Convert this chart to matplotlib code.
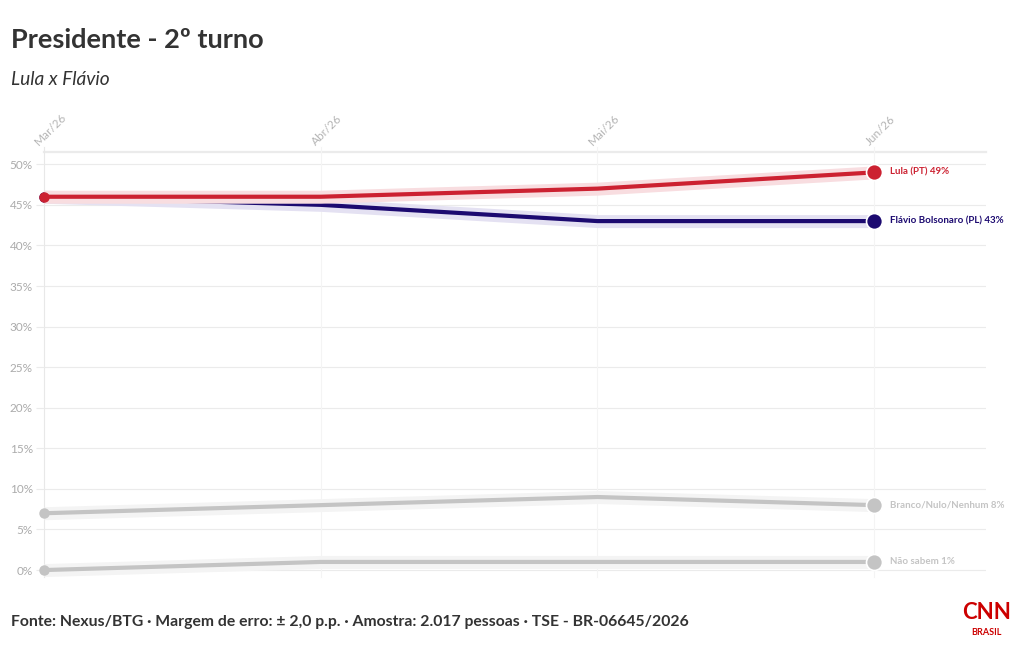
import numpy as np
import matplotlib
matplotlib.use("Agg")
import matplotlib.pyplot as plt

plt.rcParams['font.family'] = ['Lato', 'DejaVu Sans']

months = ["Mar/26", "Abr/26", "Mai/26", "Jun/26"]
lula = [46, 46, 47, 49]
flavio = [46, 45, 43, 43]
branco = [7, 8, 9, 8]
nao_sabem = [0, 1, 1, 1]
y_ticks = [0, 5, 10, 15, 20, 25, 30, 35, 40, 45, 50]

series = [
    ("Não sabem", nao_sabem, "#c4c4c4", "#f4f4f4"),
    ("Branco/Nulo/Nenhum", branco, "#c4c4c4", "#f4f4f4"),
    ("Flávio Bolsonaro (PL)", flavio, "#1c0a70", "#e4e1f2"),
    ("Lula (PT)", lula, "#cc2131", "#f8dde0"),
]
BAND = 0.8

fig = plt.figure(figsize=(10.2, 6.5), dpi=100, facecolor="white")
ax = fig.add_axes([0.0431, 0.113, 0.9236, 0.653])
x = np.arange(len(months))
ax.set_xlim(0, 3.404)
ax.set_ylim(-0.8, 51.5)

grid_c = "#ebebeb"
for yt in y_ticks:
    ax.axhline(yt, color=grid_c, lw=0.8, zorder=0)
ax.axhline(51.5, color=grid_c, lw=1.6, zorder=0, clip_on=False)
for xi in x:
    ax.axvline(xi, color="#e8e8e8" if xi == 0 else "#f4f4f4", lw=0.8, zorder=0,
               ymax=1.013, clip_on=False)

for z, (name, vals, col, band) in enumerate(series):
    v = np.array(vals, dtype=float)
    ax.fill_between(x, v - BAND, v + BAND, color=band, lw=0, zorder=1 + z * 3)
    ax.plot(x, v, color=col, lw=3.0, solid_capstyle="round", zorder=2 + z * 3,
            clip_on=False)
    ax.plot(x[0], v[0], "o", ms=6.5, color=col, zorder=3 + z * 3, clip_on=False)
    ax.plot(x[-1], v[-1], "o", ms=11.5, color=col, mec="white", mew=1.2,
            zorder=3 + z * 3, clip_on=False)
    ax.text(x[-1] + 0.058, v[-1], f"{name} {vals[-1]}%", color=col, fontsize=7,
            fontweight="bold", va="center", ha="left", zorder=20)

ax.set_yticks(y_ticks)
ax.set_yticklabels([f"{t}%" for t in y_ticks], color="#ababab", fontsize=8.5)
ax.tick_params(axis="y", length=6, color=grid_c, pad=2)
ax.set_xticks([])
for s in ax.spines.values():
    s.set_visible(False)

for xi, m in zip(x, months):
    ax.text(xi - 0.012, 52.1, m, rotation=45, rotation_mode="anchor", ha="left",
            va="bottom", color="#b5b5b5", fontsize=8.5, clip_on=False)

fig.text(0.011, 0.938, "Presidente - 2º turno", fontsize=19.5, fontweight="bold",
         color="#333333", va="center")
fig.text(0.011, 0.877, "Lula x Flávio", fontsize=13.8, style="italic",
         color="#333333", va="center")
fig.text(0.011, 0.043, "Fonte: Nexus/BTG · Margem de erro: ± 2,0 p.p. · Amostra: 2.017 pessoas · TSE - BR-06645/2026",
         fontsize=11.3, fontweight="bold", color="#333333", va="center")
fig.text(0.967, 0.057, "CNN", fontsize=16, fontweight="bold", color="#cc0000",
         ha="center", va="center")
fig.text(0.967, 0.027, "BRASIL", fontsize=6.5, fontweight="bold", color="#cc0000",
         ha="center", va="center")

fig.savefig("out.png", dpi=100, facecolor="white")
